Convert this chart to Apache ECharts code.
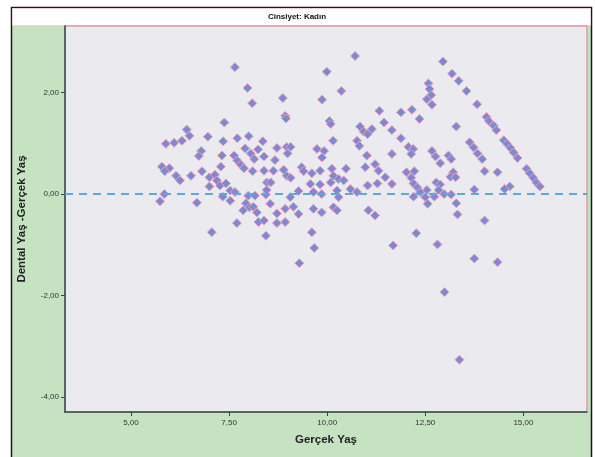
<!DOCTYPE html>
<html>
<head>
<meta charset="utf-8">
<script src="https://cdn.jsdelivr.net/npm/echarts@6/dist/echarts.min.js"></script>
<style>
html,body{margin:0;padding:0;background:#fff;}
#c{width:595px;height:457px;}
</style>
</head>
<body>
<div id="c"></div>
<script>
// Gerçek Yaş (x), Dental Yaş - Gerçek Yaş (y)
const youngerGroup = [
[7.65,2.50],[7.97,2.09],[8.09,1.79],[7.38,1.41],[6.42,1.27],[6.49,1.15],[6.30,1.05],[6.10,1.01],[5.89,0.99],[6.96,1.13],
[7.35,1.04],[7.71,1.10],[8.00,1.14],[8.36,1.04],[6.79,0.85],[6.73,0.75],[7.32,0.76],[7.63,0.76],[7.91,0.90],[8.05,0.80],
[8.24,0.88],[8.39,0.74],[7.71,0.66],[7.80,0.58],[7.88,0.51],[8.14,0.69],[7.29,0.54],[5.79,0.54],[5.98,0.51],[5.86,0.45],
[6.15,0.36],[6.25,0.27],[6.53,0.36],[6.81,0.45],[7.00,0.33],[7.14,0.38],[7.19,0.27],[7.00,0.15],[7.27,0.17],[7.42,0.21],
[7.53,0.07],[7.34,-0.05],[7.65,0.04],[7.53,-0.13],[7.99,-0.03],[8.16,-0.03],[8.10,0.45],[8.39,0.46],[8.46,0.23],[8.44,-0.01],
[7.93,-0.18],[7.86,-0.32],[8.02,-0.26],[8.12,-0.25],[8.21,-0.36],[8.25,-0.55],[8.39,-0.52],[7.70,-0.57],[7.06,-0.75],[8.44,-0.82],
[6.68,-0.17],[5.85,0.00],[5.74,-0.14]
];
const middleGroup = [
[10.71,2.72],[9.99,2.41],[10.36,2.03],[8.87,1.89],[9.87,1.86],[8.93,1.54],[8.95,1.49],[10.06,1.44],[10.09,1.38],[11.33,1.64],
[11.45,1.41],[10.84,1.33],[10.93,1.23],[11.14,1.28],[11.03,1.18],[10.15,1.05],[10.76,1.05],[10.82,0.95],[8.72,0.91],[8.97,0.93],
[9.07,0.93],[8.99,0.80],[9.74,0.89],[9.92,0.85],[9.87,0.72],[11.01,0.76],[8.67,0.67],[8.63,0.46],[8.89,0.48],[8.97,0.36],
[9.07,0.32],[9.35,0.53],[9.40,0.45],[9.61,0.41],[9.82,0.46],[10.12,0.50],[10.48,0.50],[10.97,0.53],[11.22,0.59],[11.31,0.46],
[8.56,0.23],[9.57,0.20],[9.82,0.19],[10.16,0.36],[10.29,0.30],[10.42,0.27],[10.09,0.23],[11.48,0.33],[11.03,0.17],[11.28,0.21],
[10.59,0.10],[10.76,0.04],[8.46,0.08],[9.06,-0.06],[9.27,0.06],[9.65,0.04],[9.86,0.00],[10.25,0.07],[10.29,-0.06],[8.55,-0.19],
[9.14,-0.25],[8.93,-0.29],[9.65,-0.29],[9.86,-0.36],[10.16,-0.26],[10.25,-0.32],[9.27,-0.39],[8.72,-0.38],[8.72,-0.57],[8.93,-0.55],
[11.05,-0.32],[11.22,-0.42],[9.61,-0.75],[9.67,-1.06],[9.29,-1.36]
];
const olderGroup = [
[12.95,2.61],[13.18,2.37],[13.35,2.23],[12.58,2.18],[12.61,2.07],[12.65,1.95],[12.54,1.87],[12.67,1.76],[13.55,2.03],[13.82,1.77],
[14.06,1.52],[14.12,1.44],[14.24,1.35],[14.31,1.26],[11.88,1.61],[12.16,1.66],[12.35,1.48],[13.29,1.33],[11.65,1.26],[11.88,1.10],
[12.07,0.93],[12.19,0.89],[12.14,0.79],[11.65,0.79],[13.63,1.02],[13.73,0.92],[13.83,0.80],[13.95,0.69],[14.50,1.06],[14.58,0.99],
[14.67,0.91],[14.75,0.82],[14.85,0.71],[12.67,0.85],[12.76,0.74],[12.88,0.61],[13.09,0.76],[13.16,0.69],[13.21,0.43],[13.14,0.34],
[13.27,0.33],[15.08,0.50],[15.16,0.41],[15.25,0.32],[15.33,0.23],[15.42,0.15],[14.01,0.45],[14.34,0.43],[11.65,0.20],[12.02,0.43],
[12.22,0.45],[12.14,0.32],[12.20,0.21],[12.30,0.13],[12.37,0.04],[12.54,0.08],[12.50,-0.06],[12.56,-0.19],[12.20,-0.05],[12.73,-0.05],
[12.78,0.23],[12.88,0.19],[12.84,0.08],[12.98,0.00],[13.16,-0.01],[13.29,-0.18],[13.32,-0.40],[13.75,0.09],[14.65,0.15],[14.52,0.10],
[14.01,-0.52],[12.27,-0.77],[11.68,-1.01],[12.81,-0.99],[13.75,-1.27],[14.34,-1.34],[12.99,-1.93],[13.37,-3.26]
];
const xTicks = [5, 7.5, 10, 12.5, 15];
const yTicks = [2, 0, -2, -4];
const titleText = 'Cinsiyet: Kadın';
const xName = 'Gerçek Yaş';
const yName = 'Dental Yaş -Gerçek Yaş';

const fmt = v => v.toFixed(2).replace('.', ',');
const font = '"Liberation Sans", Arial, sans-serif';
const allPoints = youngerGroup.concat(middleGroup, olderGroup);

const chart = echarts.init(document.getElementById('c'), null, {renderer: 'canvas'});
chart.setOption({
  animation: false,
  backgroundColor: '#fff',
  graphic: [
    {type: 'rect', z: -10, shape: {x: 11.5, y: 7.5, width: 580, height: 470}, style: {fill: '#c5e3c0', stroke: '#1a1a1a', lineWidth: 1.5}},
    {type: 'rect', z: -9, shape: {x: 12.5, y: 8.5, width: 578, height: 17}, style: {fill: '#ffffff', stroke: '#ecd3da', lineWidth: 1}},
    {type: 'text', z: 10, style: {text: titleText, x: 297, y: 16.5, align: 'center', verticalAlign: 'middle', fill: '#111', font: 'bold 8px ' + font}}
  ],
  grid: {left: 65, top: 26, right: 8, bottom: 45, show: true, backgroundColor: '#ebebef', borderColor: '#d6788c', borderWidth: 1},
  xAxis: {
    type: 'value', min: 3.32, max: 16.62,
    name: xName, nameLocation: 'middle', nameGap: 22,
    nameTextStyle: {fontFamily: font, fontWeight: 'bold', fontSize: 11.5, color: '#222'},
    axisLine: {onZero: false, lineStyle: {color: '#2f4a4a', width: 1.5}},
    axisTick: {show: true, length: 4, lineStyle: {color: '#2f4a4a'}, customValues: xTicks},
    axisLabel: {fontFamily: font, fontSize: 8, color: '#333', margin: 7, customValues: xTicks, formatter: v => fmt(v)},
    splitLine: {show: false}
  },
  yAxis: {
    type: 'value', min: -4.29, max: 3.31,
    name: yName, nameLocation: 'middle', nameGap: 37, nameRotate: 90,
    nameTextStyle: {fontFamily: font, fontWeight: 'bold', fontSize: 11.5, color: '#222'},
    axisLine: {onZero: false, lineStyle: {color: '#2f4a4a', width: 1.5}},
    axisTick: {show: true, length: 4, lineStyle: {color: '#2f4a4a'}, customValues: yTicks},
    axisLabel: {fontFamily: font, fontSize: 8, color: '#333', margin: 6, customValues: yTicks, formatter: v => fmt(v)},
    splitLine: {show: false}
  },
  series: [{
    type: 'scatter',
    data: allPoints,
    symbol: 'diamond',
    symbolSize: 9,
    itemStyle: {color: '#8088cf', borderColor: '#e8a0c0', borderWidth: 1, opacity: 1},
    markLine: {
      silent: true, symbol: 'none', label: {show: false},
      lineStyle: {color: '#5aa9df', type: [8, 6], width: 2},
      data: [{yAxis: 0}]
    }
  }]
});
</script>
</body>
</html>
